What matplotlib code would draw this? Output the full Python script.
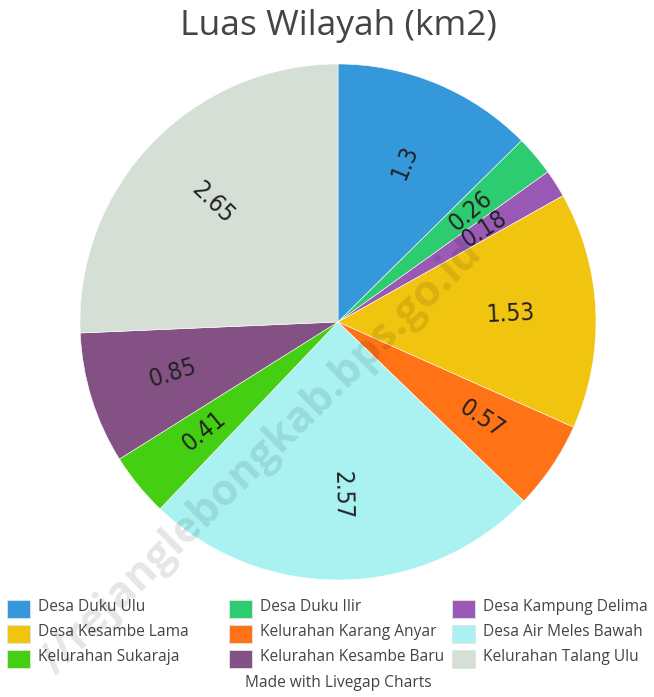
import matplotlib
matplotlib.use('Agg')
import matplotlib.pyplot as plt
from matplotlib.patches import Rectangle
from matplotlib import font_manager as fm
import numpy as np

categories = ['Desa Duku Ulu', 'Desa Duku Ilir', 'Desa Kampung Delima',
              'Desa Kesambe Lama', 'Kelurahan Karang Anyar', 'Desa Air Meles Bawah',
              'Kelurahan Sukaraja', 'Kelurahan Kesambe Baru', 'Kelurahan Talang Ulu']
values = [1.3, 0.26, 0.18, 1.53, 0.57, 2.57, 0.41, 0.85, 2.65]
value_labels = ['1.3', '0.26', '0.18', '1.53', '0.57', '2.57', '0.41', '0.85', '2.65']
colors = ['#3498db', '#2ecc71', '#9b59b6', '#f1c40f', '#ff7316', '#aaf2f2',
          '#45cf12', '#845184', '#d6dfd5']
title = 'Luas Wilayah (km2)'
watermark = '//rejanglebongkab.bps.go.id'

# pick a condensed font for slice labels if available
cond_path = fm.findfont(fm.FontProperties(family='DejaVu Sans', stretch='condensed'))
if 'Condensed' in cond_path:
    label_props = dict(family='DejaVu Sans', fontstretch='condensed', fontsize=17.5)
else:
    label_props = dict(family=['Roboto', 'DejaVu Sans'], fontsize=17)

W, H = 654, 697
fig = plt.figure(figsize=(W / 100, H / 100), dpi=100)
fig.patch.set_facecolor('white')

cx, cy, R = 338, 322, 258
ax = fig.add_axes([(cx - R) / W, (H - cy - R) / H, 2 * R / W, 2 * R / H])
wedges, _ = ax.pie(values, colors=colors, startangle=90, counterclock=False, radius=1,
                   wedgeprops=dict(edgecolor='white', linewidth=0.4))
ax.set_xlim(-1, 1)
ax.set_ylim(-1, 1)
ax.set_aspect('equal')
ax.axis('off')

for w, lab in zip(wedges, value_labels):
    mid = (w.theta1 + w.theta2) / 2.0
    m = np.deg2rad(mid)
    x, y = 0.67 * np.cos(m), 0.67 * np.sin(m)
    rot = mid % 360
    if 90 < rot < 270:
        rot -= 180
    ax.text(x, y, lab, rotation=rot, rotation_mode='anchor', ha='center', va='center',
            color='#222222', **label_props)

fig.text(cx / W, 1 - 35 / H, title, ha='center', va='baseline', fontsize=25.5,
         color='#444444', family=['Open Sans', 'DejaVu Sans'])

# legend
col_x = [7, 229, 452]
row_y = [607, 632, 657]
for i, (cat, col) in enumerate(zip(categories, colors)):
    r, c = divmod(i, 3)
    x0, yc = col_x[c], row_y[r]
    fig.add_artist(Rectangle((x0 / W, 1 - (yc + 11) / H), 23 / W, 18 / H,
                             transform=fig.transFigure, facecolor=col,
                             edgecolor='#e4e4e4', linewidth=0.6))
    fig.text((x0 + 31) / W, 1 - yc / H, cat, ha='left', va='center', fontsize=11.2,
             color='#444444', family=['Open Sans', 'DejaVu Sans'])

fig.text(cx / W, 1 - 683 / H, 'Made with Livegap Charts', ha='center', va='center',
         fontsize=11.2, color='#444444', family=['Open Sans', 'DejaVu Sans'])

# watermark
fig.text(476 / W, 1 - 247 / H, watermark, rotation=44.5,
         rotation_mode='anchor', ha='right', va='center', fontsize=31, fontweight='bold',
         color='black', alpha=0.1, family=['Open Sans', 'DejaVu Sans'])

fig.savefig('out.png', dpi=100)
